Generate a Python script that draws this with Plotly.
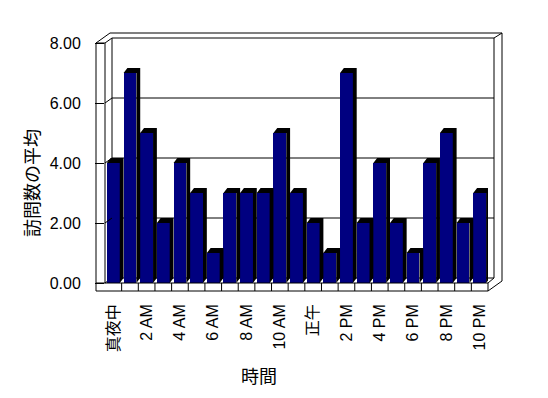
import plotly.graph_objects as go

# ---- data ----
hours = list(range(23))
avg_visits = [4, 7, 5, 2, 4, 3, 1, 3, 3, 3, 5, 3, 2, 1, 7, 2, 4, 2, 1, 4, 5, 2, 3]
tick_positions = [0, 2, 4, 6, 8, 10, 12, 14, 16, 18, 20, 22]
tick_labels = ["真夜中", "2 AM", "4 AM", "6 AM", "8 AM", "10 AM", "正午",
               "2 PM", "4 PM", "6 PM", "8 PM", "10 PM"]
y_ticks = [0, 2, 4, 6, 8]
y_tick_labels = ["0.00", "2.00", "4.00", "6.00", "8.00"]
x_title = "時間"
y_title = "訪問数の平均"

# ---- layout geometry (pixels, reference coordinates) ----
OFF = 8                 # page body margin
W, H = 548 - OFF, 398 - OFF
L, R, T, B = 105, 488, 43, 283
PW, PH = R - L, B - T
DX, DY = 7, 5
BAR_W = 0.77
BAR_DX = 0.23
BAR_DY = 0.17


def px(x):
    return (x - L) / PW


def py(y):
    return (B - y) / PH


def vy(v):
    return B - v / 8.0 * PH


fig = go.Figure()

xs, ys = [], []
for i, v in zip(hours, avg_visits):
    x0, x1 = i - BAR_W / 2, i + BAR_W / 2
    xs += [x0, x0 + BAR_DX, x1 + BAR_DX, x1 + BAR_DX, x1, x1, x0, None]
    ys += [v, v + BAR_DY, v + BAR_DY, BAR_DY, 0, v, v, None]

fig.add_trace(go.Bar(x=hours, y=avg_visits, width=BAR_W,
                     marker=dict(color="#000080", line=dict(width=0)),
                     hoverinfo="skip"))
fig.add_trace(go.Scatter(x=xs, y=ys, mode="lines", fill="toself",
                         fillcolor="black", line=dict(width=0, color="black"),
                         hoverinfo="skip"))

shapes = []


def line(x0, y0, x1, y1, layer="above"):
    shapes.append(dict(type="line", xref="paper", yref="paper",
                       x0=px(x0), y0=py(y0), x1=px(x1), y1=py(y1),
                       line=dict(color="black", width=1), layer=layer))


line(96, 291, 96, 43)
line(96, 43, 110, 33)
line(110, 33, 502, 33)
line(502, 33, 502, 281)
line(502, 281, 488, 291)
line(488, 291, 96, 291)
line(96, 43, 105, 43)
line(105, 43, 105, B)
line(105, 43, 112, 38)
line(112, 38, 112, B - DY, "below")
line(112, 38, 494, 38)
line(494, 38, 494, B - DY)
line(494, 38, 502, 33)
line(96, B, 488, B)
line(488, B, 488, 291)
line(105, B, 112, B - DY, "below")
line(112, B - DY, 494, B - DY, "below")
line(488, B, 494, B - DY, "below")
for v in y_ticks[1:-1]:
    yy = vy(v)
    line(105, yy, 112, yy - DY)
    line(112, yy - DY, 494, yy - DY, "below")
for k in range(1, len(hours)):
    shapes.append(dict(type="line", xref="x", yref="paper",
                       x0=k - 0.5, x1=k - 0.5, y0=py(B), y1=py(291),
                       line=dict(color="black", width=1), layer="above"))

fig.update_layout(
    width=W, height=H,
    margin=dict(l=L - OFF, r=W - (R - OFF), t=T - OFF, b=H - (B - OFF), pad=0),
    paper_bgcolor="white", plot_bgcolor="white",
    showlegend=False,
    bargap=0,
    shapes=shapes,
    font=dict(family="Liberation Sans, Arial, Noto Sans CJK JP", color="black"),
    xaxis=dict(range=[-0.5, 22.5], tickmode="array", tickvals=tick_positions,
               ticktext=tick_labels, tickangle=-90, ticks="", showgrid=False,
               zeroline=False, showline=False, ticklabelstandoff=17,
               tickfont=dict(size=16, color="black",
                             family="Liberation Sans, Noto Sans CJK JP")),
    yaxis=dict(range=[0, 8], tickmode="array", tickvals=y_ticks,
               ticktext=y_tick_labels, ticks="outside", ticklen=9,
               tickcolor="black", tickwidth=1, showgrid=False, zeroline=False,
               showline=False, ticklabelstandoff=11,
               tickfont=dict(size=16, color="black", family="Liberation Sans")),
    annotations=[
        dict(text=x_title, xref="paper", yref="paper", x=px(259), y=py(375),
             showarrow=False, xanchor="center", yanchor="middle",
             font=dict(size=18, color="black", family="Noto Sans CJK JP")),
        dict(text=y_title, xref="paper", yref="paper", x=px(31), y=py(183),
             showarrow=False, xanchor="center", yanchor="middle", textangle=-90,
             font=dict(size=18, color="black", family="Noto Sans CJK JP")),
    ],
)

fig.write_html("out.html")
